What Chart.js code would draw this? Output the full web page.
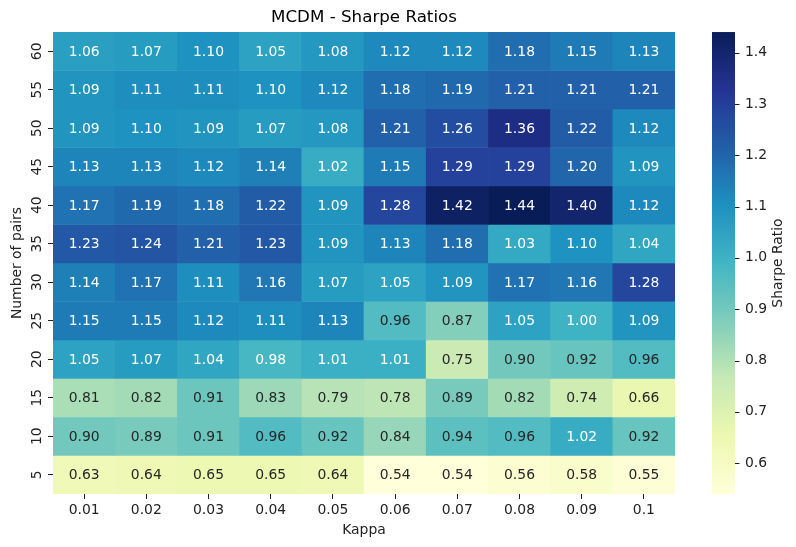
<!DOCTYPE html>
<html>
<head>
<meta charset="utf-8">
<script src="https://cdn.jsdelivr.net/npm/chart.js@4/dist/chart.umd.min.js"></script>
<style>
  html, body { margin: 0; padding: 0; background: #fff; }
  canvas { display: block; }
</style>
</head>
<body>
<canvas id="c" width="796" height="547"></canvas>
<script>
// ---- data ----
const kappa = ['0.01', '0.02', '0.03', '0.04', '0.05', '0.06', '0.07', '0.08', '0.09', '0.1'];
const pairs = [60, 55, 50, 45, 40, 35, 30, 25, 20, 15, 10, 5];
const sr60 = [1.06, 1.07, 1.10, 1.05, 1.08, 1.12, 1.12, 1.18, 1.15, 1.13];
const sr55 = [1.09, 1.11, 1.11, 1.10, 1.12, 1.18, 1.19, 1.21, 1.21, 1.21];
const sr50 = [1.09, 1.10, 1.09, 1.07, 1.08, 1.21, 1.26, 1.36, 1.22, 1.12];
const sr45 = [1.13, 1.13, 1.12, 1.14, 1.02, 1.15, 1.29, 1.29, 1.20, 1.09];
const sr40 = [1.17, 1.19, 1.18, 1.22, 1.09, 1.28, 1.42, 1.44, 1.40, 1.12];
const sr35 = [1.23, 1.24, 1.21, 1.23, 1.09, 1.13, 1.18, 1.03, 1.10, 1.04];
const sr30 = [1.14, 1.17, 1.11, 1.16, 1.07, 1.05, 1.09, 1.17, 1.16, 1.28];
const sr25 = [1.15, 1.15, 1.12, 1.11, 1.13, 0.96, 0.87, 1.05, 1.00, 1.09];
const sr20 = [1.05, 1.07, 1.04, 0.98, 1.01, 1.01, 0.75, 0.90, 0.92, 0.96];
const sr15 = [0.81, 0.82, 0.91, 0.83, 0.79, 0.78, 0.89, 0.82, 0.74, 0.66];
const sr10 = [0.90, 0.89, 0.91, 0.96, 0.92, 0.84, 0.94, 0.96, 1.02, 0.92];
const sr5  = [0.63, 0.64, 0.65, 0.65, 0.64, 0.54, 0.54, 0.56, 0.58, 0.55];
const cbTicks = [0.6, 0.7, 0.8, 0.9, 1.0, 1.1, 1.2, 1.3, 1.4];

const rows = [sr60, sr55, sr50, sr45, sr40, sr35, sr30, sr25, sr20, sr15, sr10, sr5];

// ---- colormap (YlGnBu) ----
const YlGnBu = ['#ffffd9', '#edf8b1', '#c7e9b4', '#7fcdbb', '#41b6c4', '#1d91c0', '#225ea8', '#253494', '#081d58'];
const cmRGB = YlGnBu.map(h => [parseInt(h.slice(1, 3), 16), parseInt(h.slice(3, 5), 16), parseInt(h.slice(5, 7), 16)]);
const allVals = rows.flat();
const vmin = Math.min(...allVals);
const vmax = Math.max(...allVals);
function cmap(v) {
  let t = (v - vmin) / (vmax - vmin);
  t = Math.max(0, Math.min(1, t));
  const p = t * (cmRGB.length - 1);
  const i = Math.min(Math.floor(p), cmRGB.length - 2);
  const f = p - i;
  return cmRGB[i].map((c, k) => Math.round(c + (cmRGB[i + 1][k] - c) * f));
}
function rgbStr(c) { return 'rgb(' + c[0] + ',' + c[1] + ',' + c[2] + ')'; }
function lum(c) {
  const l = c.map(x => { x /= 255; return x <= 0.03928 ? x / 12.92 : Math.pow((x + 0.055) / 1.055, 2.4); });
  return 0.2126 * l[0] + 0.7152 * l[1] + 0.0722 * l[2];
}

const FONT = 'DejaVu Sans';
const TXT = '#222';

const datasets = rows.map((row, r) => ({
  label: String(pairs[r]),
  xAxisID: 'x',
  yAxisID: 'y',
  data: row.map(() => [r - 0.5, r + 0.5]),
  backgroundColor: row.map(v => rgbStr(cmap(v))),
  borderWidth: 0,
  barPercentage: 1,
  categoryPercentage: 1,
  grouped: false
}));

function zeroPad(s) { s.paddingTop = 0; s.paddingBottom = 0; s.paddingLeft = 0; s.paddingRight = 0; }

const annotPlugin = {
  id: 'annot',
  afterDatasetsDraw(chart) {
    const ctx = chart.ctx;
    const xs = chart.scales.x, ys = chart.scales.y;
    ctx.save();
    ctx.font = '13.9px "' + FONT + '"';
    ctx.textAlign = 'center';
    ctx.textBaseline = 'middle';
    rows.forEach((row, r) => {
      row.forEach((v, c) => {
        const col = cmap(v);
        ctx.fillStyle = lum(col) > 0.408 ? '#262626' : '#ffffff';
        ctx.fillText(v.toFixed(2), xs.getPixelForValue(c), ys.getPixelForValue(r) + 1);
      });
    });
    ctx.restore();
  },
  afterDraw(chart) {
    const ctx = chart.ctx;
    const s = chart.scales.cb;
    const x0 = s.left + 37, w = 23;
    const top = s.getPixelForValue(vmax), bot = s.getPixelForValue(vmin);
    const g = ctx.createLinearGradient(0, bot, 0, top);
    YlGnBu.forEach((c, i) => g.addColorStop(i / (YlGnBu.length - 1), c));
    ctx.save();
    ctx.fillStyle = g;
    ctx.fillRect(x0, top, w, bot - top);
    ctx.strokeStyle = '#222';
    ctx.lineWidth = 1;
    cbTicks.forEach(v => {
      const y = Math.round(s.getPixelForValue(v)) + 0.5;
      ctx.beginPath();
      ctx.moveTo(x0 + w, y);
      ctx.lineTo(x0 + w + 4.5, y);
      ctx.stroke();
    });
    ctx.translate(s.left + 103, (top + bot) / 2);
    ctx.rotate(-Math.PI / 2);
    ctx.font = '13.9px "' + FONT + '"';
    ctx.fillStyle = TXT;
    ctx.textAlign = 'center';
    ctx.textBaseline = 'middle';
    ctx.fillText('Sharpe Ratio', 0, 0);
    ctx.restore();
  }
};

new Chart(document.getElementById('c'), {
  type: 'bar',
  data: { labels: kappa, datasets },
  plugins: [annotPlugin],
  options: {
    responsive: false,
    animation: false,
    devicePixelRatio: 1,
    layout: { padding: 0 },
    plugins: {
      legend: { display: false },
      tooltip: { enabled: false },
      title: {
        display: true,
        text: 'MCDM - Sharpe Ratios',
        fullSize: false,
        color: '#000',
        font: { family: FONT, size: 16.7, weight: 'normal' },
        padding: { top: 8, bottom: 4 }
      }
    },
    scales: {
      x: {
        type: 'category',
        offset: true,
        grid: { offset: false, drawOnChartArea: false, drawTicks: true, tickLength: 5, color: '#222' },
        border: { display: false },
        ticks: { font: { family: FONT, size: 13.9 }, color: TXT, padding: 3, maxRotation: 0, autoSkip: false },
        title: { display: true, text: 'Kappa', color: TXT, font: { family: FONT, size: 13.9 }, padding: { top: 0, bottom: 8 } },
        afterFit(s) { s.height = 53; zeroPad(s); }
      },
      y: {
        type: 'linear',
        position: 'left',
        reverse: true,
        min: -0.5,
        max: 11.5,
        afterBuildTicks(s) { s.ticks = pairs.map((p, i) => ({ value: i })); },
        grid: { drawOnChartArea: false, drawTicks: true, tickLength: 5, color: '#222' },
        border: { display: false },
        ticks: {
          callback: (v) => String(pairs[v]),
          minRotation: 90, maxRotation: 90,
          crossAlign: 'center',
          padding: 2,
          autoSkip: false,
          font: { family: FONT, size: 13.9 }, color: TXT
        },
        title: { display: true, text: 'Number of pairs', color: TXT, font: { family: FONT, size: 13.9 }, padding: { top: 9, bottom: 0 } },
        afterFit(s) { s.width = 53; zeroPad(s); }
      },
      cb: {
        type: 'linear',
        position: 'right',
        min: vmin,
        max: vmax,
        afterBuildTicks(s) { s.ticks = cbTicks.map(v => ({ value: v })); },
        grid: { display: false, drawOnChartArea: false, drawTicks: false },
        border: { display: false },
        ticks: { padding: 70, callback: (v) => Number(v).toFixed(1), font: { family: FONT, size: 13.9 }, color: TXT, autoSkip: false },
        afterFit(s) { s.width = 121; zeroPad(s); }
      }
    }
  }
});
</script>
</body>
</html>
